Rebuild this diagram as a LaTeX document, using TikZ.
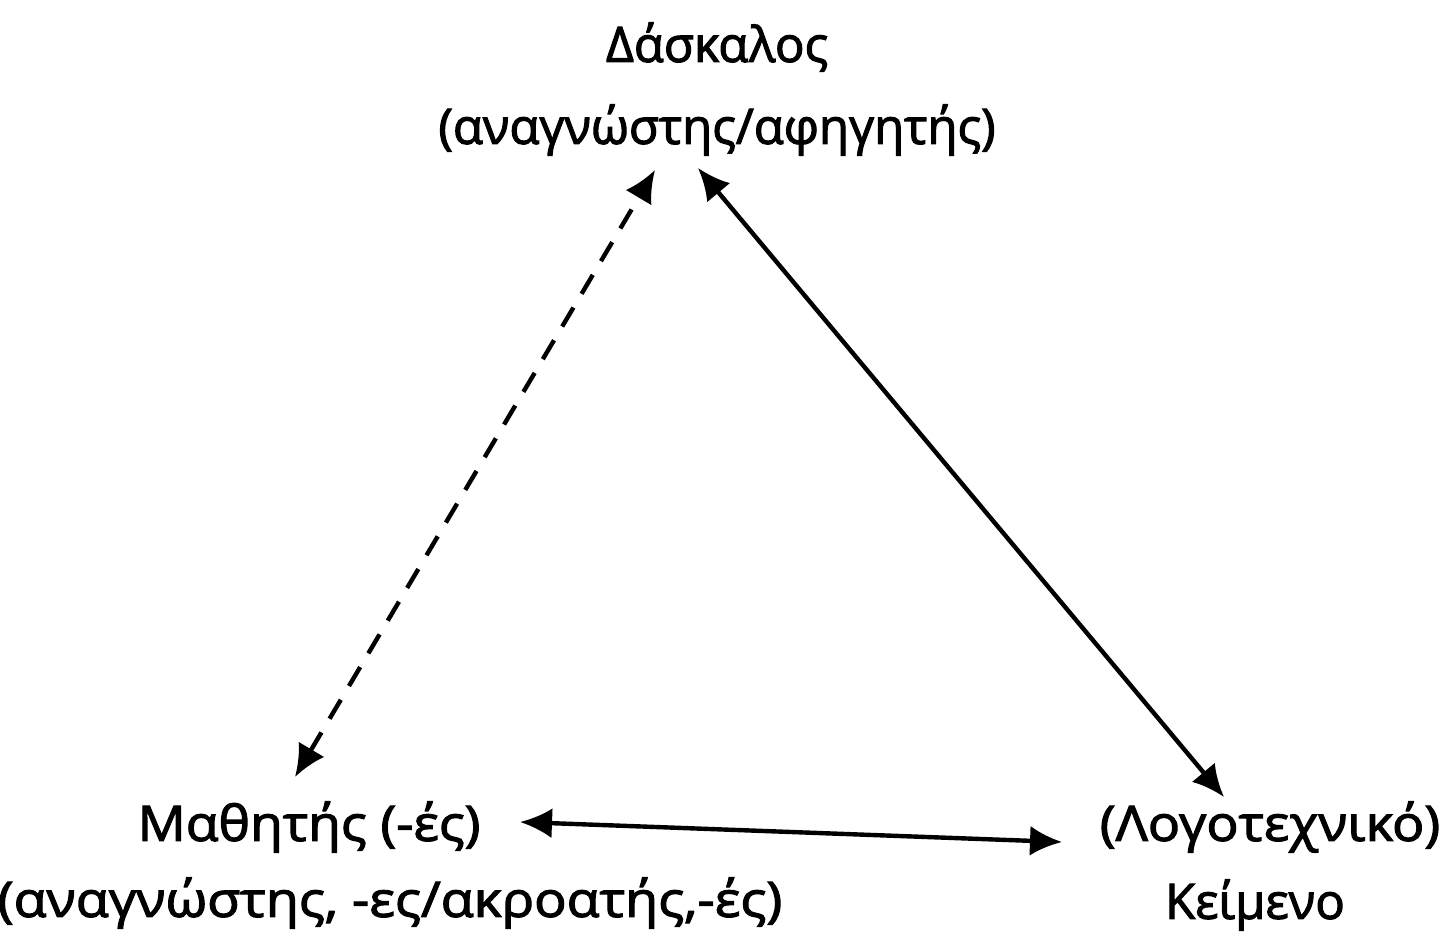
\documentclass[tikz,border=0pt]{standalone}
\usepackage{fontspec}
\setmainfont{Open Sans}
\newfontfamily\lblfont{Open Sans}[FakeBold=2.2]
\usetikzlibrary{arrows.meta}
\newcommand{\wide}[2]{\scalebox{#1}[1]{#2}}
\begin{document}
\begin{tikzpicture}[x=0.5pt,y=-0.5pt,
  lbl/.style={font=\lblfont\fontsize{24.5}{30}\selectfont, inner sep=0pt, anchor=center},
  conn/.style={line width=2.2pt, {Latex[length=16pt,width=15pt]}-{Latex[length=16pt,width=15pt]}},
  dashconn/.style={conn, dash pattern=on 11pt off 8pt}]
\path[use as bounding box, fill=white] (0,0) rectangle (1443,946);
\node[lbl] (t1) at (717,47) {Δάσκαλος};
\node[lbl] (t2) at (717,130) {(αναγνώστης/αφηγητής)};
\node[lbl] (m1) at (309,827) {\wide{1.09}{Μαθητής (-ές)}};
\node[lbl] (m2) at (390,903) {\wide{1.1}{(αναγνώστης, -ες/ακροατής,-ές)}};
\node[lbl] (k1) at (1270,827) {\wide{1.09}{(Λογοτεχνικό)}};
\node[lbl] (k2) at (1255,905) {Κείμενο};
\coordinate (dA) at (655,170);
\coordinate (dB) at (295,777);
\coordinate (sA) at (698,168);
\coordinate (sB) at (1224,797);
\coordinate (hA) at (520,822);
\coordinate (hB) at (1062,842);
\draw[dashconn] (dB) -- (dA);
\draw[conn] (sA) -- (sB);
\draw[conn] (hA) -- (hB);
\end{tikzpicture}
\end{document}
